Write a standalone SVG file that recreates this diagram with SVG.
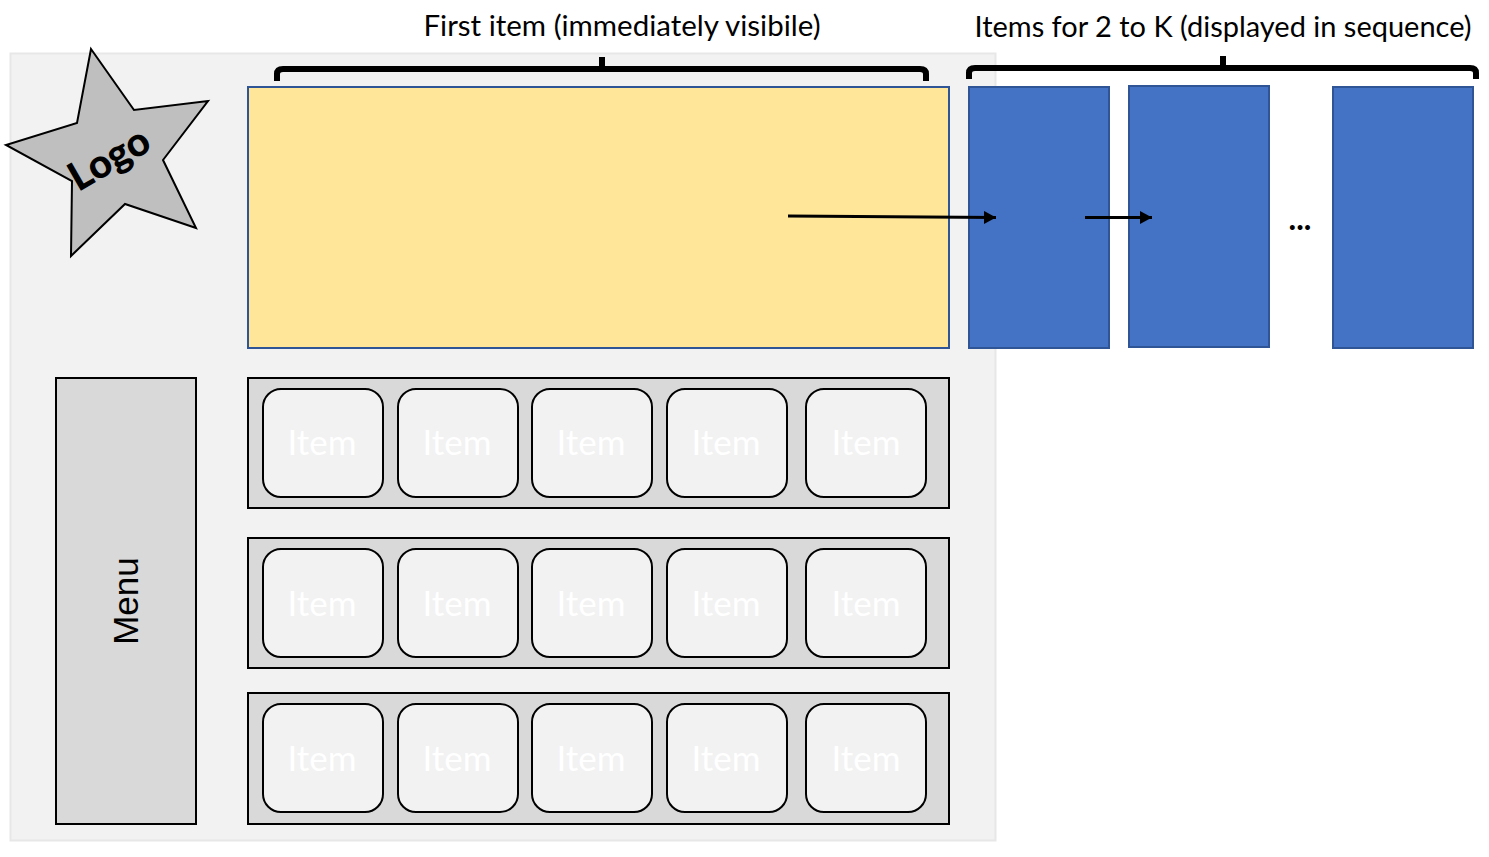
<svg xmlns="http://www.w3.org/2000/svg" width="1489" height="857" viewBox="0 0 1489 857">
<style>
text{font-family:"Lato","Open Sans","Liberation Sans",sans-serif}
.row{fill:#d9d9d9;stroke:#000;stroke-width:2}
.item{fill:#f2f2f2;stroke:#000;stroke-width:2}
.itxt{fill:#fff;font-size:35px;text-anchor:middle}
.blue{fill:#4472c4;stroke:#2f5597;stroke-width:2}
.brace{fill:none;stroke:#000;stroke-width:6}
.lbl{font-size:29px;fill:#000}
.arrow{fill:none;stroke:#000;stroke-width:2.8;marker-end:url(#ah)}
</style>
<defs><marker id="ah" markerUnits="userSpaceOnUse" markerWidth="12" markerHeight="13" refX="12" refY="6.5" orient="auto"><path d="M0 0L12 6.5L0 13Z" fill="#000"/></marker></defs>
<rect width="1489" height="857" fill="#fff"/>
<g id="background"><rect x="10.5" y="53.5" width="985" height="787" fill="#f2f2f2" stroke="#e7e7e7" stroke-width="2"/></g>
<g id="logo"><polygon points="91,49 134,110 208,101 163,160 196,228 125,204 71,256 72,181 6,145 77,123" fill="#bfbfbf" stroke="#000" stroke-width="2"/>
<text x="110" y="172" transform="rotate(-30 110 160)" font-size="40" font-weight="900" text-anchor="middle">Logo</text></g>
<g id="first-item"><rect x="248" y="87" width="701" height="261" fill="#ffe699" stroke="#2f5597" stroke-width="2"/></g>
<g id="item-2"><rect class="blue" x="969" y="87" width="140" height="261"/></g>
<g id="item-3"><rect class="blue" x="1129" y="86" width="140" height="261"/></g>
<g id="item-k"><rect class="blue" x="1333" y="87" width="140" height="261"/></g>
<g id="ellipsis"><text x="1300" y="230" font-size="32" font-weight="700" text-anchor="middle">...</text></g>
<g id="label-first"><path class="brace" d="M277 81V74Q277 69 283 69H920Q926 69 926 74V81M602 69L602 57"/>
<text class="lbl" x="622" y="36" text-anchor="middle" textLength="397" lengthAdjust="spacingAndGlyphs">First item (immediately visibile)</text></g>
<g id="label-rest"><path class="brace" d="M969 79V73Q969 68 975 68H1470Q1476 68 1476 73V79M1223 68V56"/>
<text class="lbl" x="1223" y="37" text-anchor="middle" textLength="497" lengthAdjust="spacingAndGlyphs">Items for 2 to K (displayed in sequence)</text></g>
<g id="menu"><rect class="row" x="56" y="378" width="140" height="446"/>
<text transform="translate(138 601) rotate(-90)" font-size="35" style="font-family:'Liberation Sans',sans-serif" text-anchor="middle">Menu</text></g>
<g id="row-1"><rect class="row" x="248" y="378" width="701" height="130"/>
<rect class="item" x="263" y="389" width="120" height="108" rx="18"/><text class="itxt" x="322" y="455">Item</text>
<rect class="item" x="398" y="389" width="120" height="108" rx="18"/><text class="itxt" x="457" y="455">Item</text>
<rect class="item" x="532" y="389" width="120" height="108" rx="18"/><text class="itxt" x="591" y="455">Item</text>
<rect class="item" x="667" y="389" width="120" height="108" rx="18"/><text class="itxt" x="726" y="455">Item</text>
<rect class="item" x="806" y="389" width="120" height="108" rx="18"/><text class="itxt" x="866" y="455">Item</text></g>
<g id="row-2"><rect class="row" x="248" y="538" width="701" height="130"/>
<rect class="item" x="263" y="549" width="120" height="108" rx="18"/><text class="itxt" x="322" y="616">Item</text>
<rect class="item" x="398" y="549" width="120" height="108" rx="18"/><text class="itxt" x="457" y="616">Item</text>
<rect class="item" x="532" y="549" width="120" height="108" rx="18"/><text class="itxt" x="591" y="616">Item</text>
<rect class="item" x="667" y="549" width="120" height="108" rx="18"/><text class="itxt" x="726" y="616">Item</text>
<rect class="item" x="806" y="549" width="120" height="108" rx="18"/><text class="itxt" x="866" y="616">Item</text></g>
<g id="row-3"><rect class="row" x="248" y="693" width="701" height="131"/>
<rect class="item" x="263" y="704" width="120" height="108" rx="18"/><text class="itxt" x="322" y="771">Item</text>
<rect class="item" x="398" y="704" width="120" height="108" rx="18"/><text class="itxt" x="457" y="771">Item</text>
<rect class="item" x="532" y="704" width="120" height="108" rx="18"/><text class="itxt" x="591" y="771">Item</text>
<rect class="item" x="667" y="704" width="120" height="108" rx="18"/><text class="itxt" x="726" y="771">Item</text>
<rect class="item" x="806" y="704" width="120" height="108" rx="18"/><text class="itxt" x="866" y="771">Item</text></g>
<g id="connectors"><path class="arrow" d="M788 216L996 217.5"/><path class="arrow" d="M1085 217.5H1152"/></g>
</svg>
